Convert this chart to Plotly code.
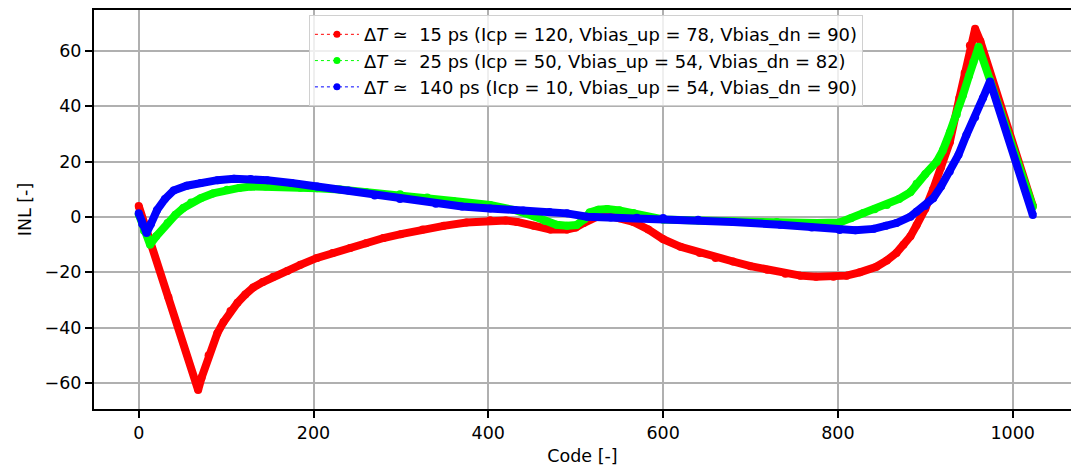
import plotly.graph_objects as go

# ---- data (code, INL) ----
red_code = [0, 34, 68, 72, 80, 90, 97, 105, 113, 122, 131, 142, 154, 170, 185, 204, 222, 242, 260, 280,
            300, 325, 349, 375, 402, 420, 433, 452, 471, 490, 500, 509, 518, 528, 540, 550, 566, 583,
            600, 620, 642, 660, 680, 700, 719, 740, 757, 775, 795, 810, 825, 844, 856, 867, 875, 883,
            890, 900, 909, 918, 928, 939, 945, 951, 957, 963, 1023]
red_inl = [4, -29, -62.5, -58, -50, -42, -38, -34, -31, -28, -25.5, -23.5, -21.6, -19.5, -17.3, -14.8, -13, -11.2, -9.5, -7.6,
           -6.2, -4.5, -3.2, -2, -1.2, -1.3, -1.8, -3.2, -4.5, -4.5, -3.8, -2.2, -0.5, 0.7, 0.3, -0.5, -1.8, -4.5,
           -8, -10.8, -13, -14.8, -16.1, -17.8, -19.1, -20.5, -21.2, -21.6, -21.6, -21.2, -20, -18, -15.7, -13, -10, -7,
           -3, 3, 10, 18, 27, 43, 52, 62, 68, 63.5, 4]

green_code = [0, 6, 13, 20, 33, 42, 51, 60, 71, 85, 101, 115, 128, 145, 166, 185, 204, 230, 260, 299,
              330, 360, 402, 430, 452, 465, 478, 490, 501, 510, 516, 526, 536, 550, 566, 582, 600, 640,
              680, 730, 776, 802, 815, 829, 842, 856, 870, 883, 890, 900, 913, 920, 928, 936, 943, 950,
              955, 961, 974, 1023]
green_inl = [1, -5, -10, -7, -2.2, 0.8, 3.2, 5.2, 6.8, 8.5, 9.8, 10.5, 11, 11, 10.8, 10.6, 10.4, 9.9, 9, 8.2,
             7, 5.8, 4.3, 2.5, 0.3, -1.5, -2.8, -3.2, -2.9, -0.8, 1.6, 2.6, 2.9, 2.4, 1.4, 0, -0.9, -1.3,
             -1.7, -1.8, -2.2, -2, -0.5, 1.4, 2.8, 4.3, 6.5, 9, 12, 15.5, 20, 24, 30.5, 37, 44, 51,
             56, 61.5, 49.5, 3.7]

blue_code = [0, 4, 9, 14, 21, 30, 40, 55, 71, 90, 109, 128, 147, 175, 204, 240, 270, 299, 340, 370,
             402, 440, 470, 490, 513, 540, 570, 600, 640, 680, 734, 770, 802, 820, 841, 855, 867, 883,
             890, 900, 909, 918, 928, 938, 947, 957, 966, 974, 1023]
blue_inl = [1.3, -2.5, -5.8, -2.5, 2.5, 6.5, 9.6, 11.3, 12.3, 13.3, 13.8, 13.7, 13.3, 12.3, 11, 9.6, 7.8, 6.5, 4.8, 3.8,
            3.1, 2.3, 1.8, 1.3, 0.1, -0.2, -0.3, -0.4, -1, -1.8, -2.8, -3.8, -4.7, -4.8, -4.3, -3.2, -2.2, 0.1,
            1.9, 4, 6.8, 11, 16.4, 22.5, 29.6, 36, 43, 49, 0.7]

labels = [
    "Δ<i>T</i> ≃  15 ps (Icp = 120, Vbias_up = 78, Vbias_dn = 90)",
    "Δ<i>T</i> ≃  25 ps (Icp = 50, Vbias_up = 54, Vbias_dn = 82)",
    "Δ<i>T</i> ≃  140 ps (Icp = 10, Vbias_up = 54, Vbias_dn = 90)",
]
colors = ["#ff0000", "#00ff00", "#0000ff"]
x_ticks = [0, 200, 400, 600, 800, 1000]
y_ticks = [-60, -40, -20, 0, 20, 40, 60]

FONT = "DejaVu Sans"
fig = go.Figure()

series = [(red_code, red_inl), (green_code, green_inl), (blue_code, blue_inl)]
for (xs, ys), c, lab in zip(series, colors, labels):
    fig.add_trace(go.Scatter(
        x=xs, y=ys, mode="lines+markers",
        line=dict(color=c, width=8),
        marker=dict(color=c, size=8),
        showlegend=False, hoverinfo="skip",
    ))
for c, lab in zip(colors, labels):
    fig.add_trace(go.Scatter(
        x=[None], y=[None], mode="lines+markers", name=lab,
        line=dict(color=c, width=1, dash="dot"),
        marker=dict(color=c, size=7),
    ))

axis_common = dict(
    showline=True, linecolor="black", linewidth=2,
    ticks="outside", ticklen=7, tickwidth=2, tickcolor="black",
    showgrid=True, gridcolor="#b0b0b0", gridwidth=2,
    zeroline=False, automargin=False,
    tickfont=dict(family=FONT, size=17.5, color="black"),
)

fig.update_xaxes(
    range=[-51.15, 1066.7], tickvals=x_ticks, mirror=True,
    title=dict(text="Code [-]", font=dict(family=FONT, size=17.5, color="black"), standoff=8),
    **axis_common,
)
fig.update_yaxes(
    range=[-69.4, 74.8], tickvals=y_ticks,
    title=dict(text="INL [-]", font=dict(family=FONT, size=17.5, color="black"), standoff=8),
    **axis_common,
)

fig.update_layout(
    width=1071, height=469,
    margin=dict(l=94, r=0, t=10, b=60),
    plot_bgcolor="white", paper_bgcolor="white",
    font=dict(family=FONT, color="black"),
    legend=dict(
        x=0.22, y=0.987, xanchor="left", yanchor="top",
        bgcolor="rgba(255,255,255,0.8)", bordercolor="#d0d0d0", borderwidth=1,
        font=dict(family=FONT, size=17.9, color="black"),
        itemwidth=44, tracegroupgap=0,
    ),
)

fig.write_html(
    "out.html",
    config={"displayModeBar": False},
    post_script="document.body.style.margin='0';document.documentElement.style.overflow='hidden';",
)
